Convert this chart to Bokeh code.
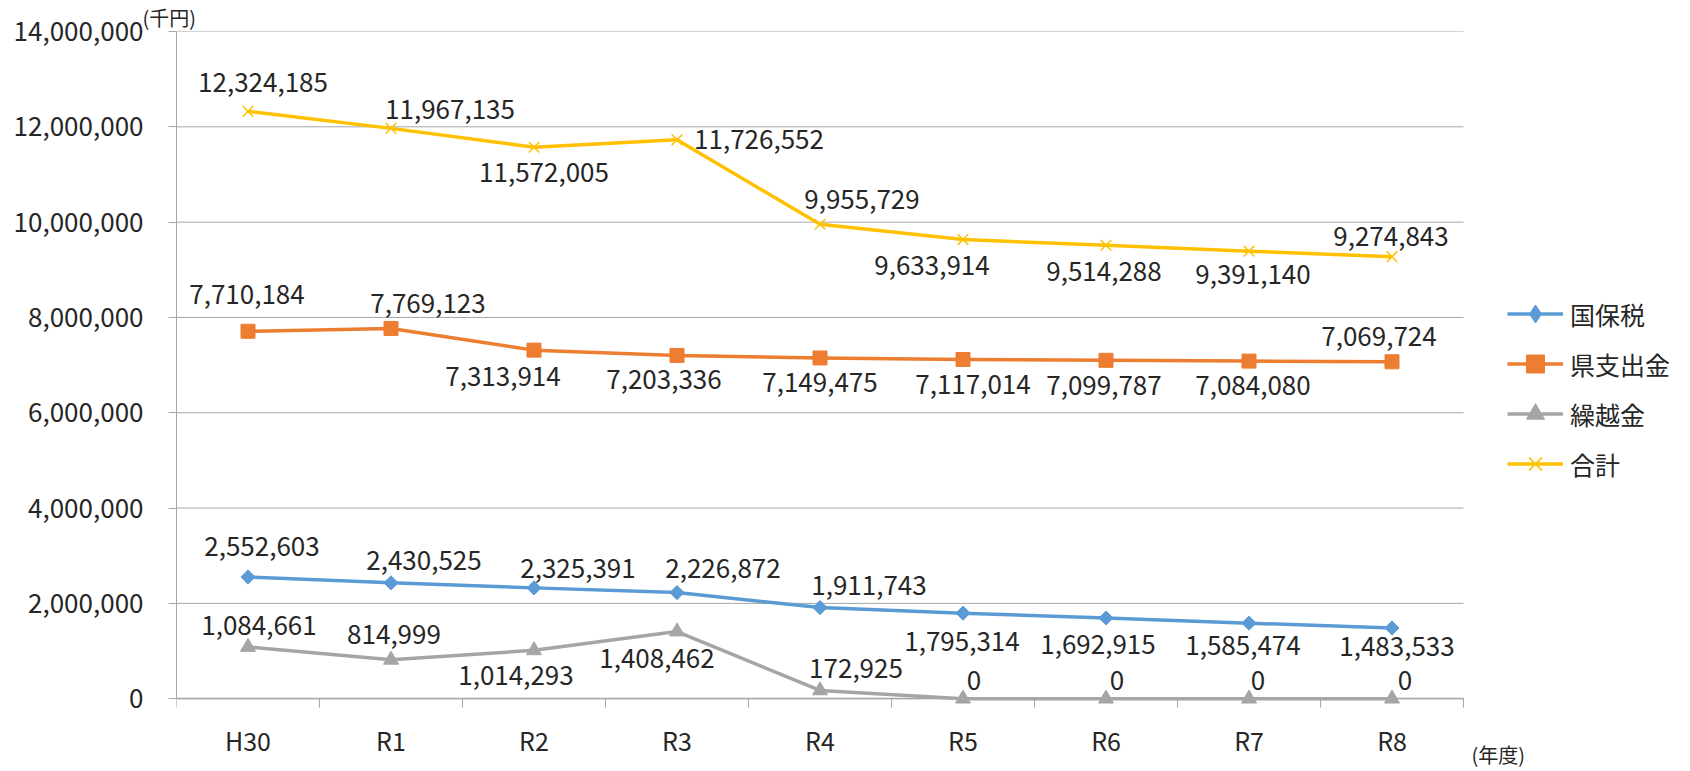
from bokeh.plotting import figure
from bokeh.models import (Range1d, FixedTicker, NumeralTickFormatter, Legend, LegendItem,
                          ColumnDataSource, Title, Label)
from bokeh.core.properties import value
from bokeh.embed import file_html
from bokeh.resources import INLINE
import math

# 年度
years = ["H30", "R1", "R2", "R3", "R4", "R5", "R6", "R7", "R8"]

# 財源の内訳（千円）
kokuhozei = [2552603, 2430525, 2325391, 2226872, 1911743, 1795314, 1692915, 1585474, 1483533]
ken_shishutsukin = [7710184, 7769123, 7313914, 7203336, 7149475, 7117014, 7099787, 7084080, 7069724]
kurikoshikin = [1084661, 814999, 1014293, 1408462, 172925, 0, 0, 0, 0]
goukei = [12324185, 11967135, 11572005, 11726552, 9955729, 9633914, 9514288, 9391140, 9274843]

y_ticks = [0, 2000000, 4000000, 6000000, 8000000, 10000000, 12000000, 14000000]

# データラベルの配置（画面上のずれ、px）
kokuhozei_dx = [14, 33, 44, 46, 49, -1, -8, -6, 5]
kokuhozei_dy = [-31, -22, -19, -24, -22, 28, 26, 22, 19]
ken_dx = [-1, 37, -31, -13, 0, 10, -2, 4, -13]
ken_dy = [-37, -25, 26, 24, 25, 25, 25, 24, -25]
kuri_dx = [11, 3, -18, -20, 36, 11, 11, 9, 13]
kuri_dy = [-22, -25, 25, 27, -22, -18, -18, -18, -18]
goukei_dx = [15, 59, 10, 82, 42, -31, -2, 4, -1]
goukei_dy = [-29, -19, 25, 0, -25, 26, 26, 23, -20]

FONT = "Noto Sans CJK JP"
TEXT = "#262626"
GRID = "#a6a6a6"
NUM_SIZE = "26px"

# 描画領域の寸法（px）：グラフ部分の外側に凡例と軸ラベルを置く余白を取る
W, H = 1690, 771
LEFT, TOP = 176, 29
PLOT_W, PLOT_H = 1287, 669
n = len(years)
x_end = n * (W - LEFT) / PLOT_W
y_start = -y_ticks[-1] * (H - TOP - PLOT_H) / PLOT_H

xs = [i + 0.5 for i in range(n)]

p = figure(width=W, height=H,
           x_range=Range1d(0, x_end), y_range=Range1d(y_start, y_ticks[-1]),
           output_backend="svg", toolbar_location=None,
           min_border_left=LEFT, min_border_right=0,
           min_border_top=TOP, min_border_bottom=0)
p.outline_line_color = None
p.background_fill_color = "white"
p.border_fill_color = "white"
p.xgrid.visible = False
p.ygrid.visible = False

# 目盛り線（横方向はグラフ部分の幅だけ）
p.segment(x0=0, x1=n, y0=y_ticks, y1=y_ticks, line_color=GRID, line_width=1,
          level="underlay")

# 縦軸
p.yaxis.bounds = (0, y_ticks[-1])
p.yaxis.ticker = FixedTicker(ticks=y_ticks)
p.yaxis.formatter = NumeralTickFormatter(format="0,0")
p.yaxis.axis_line_color = GRID
p.yaxis.major_tick_line_color = GRID
p.yaxis.major_tick_out = 8
p.yaxis.major_tick_in = 0
p.yaxis.minor_tick_line_color = None
p.yaxis.major_label_standoff = 25
p.yaxis.major_label_text_font = FONT
p.yaxis.major_label_text_font_size = NUM_SIZE
p.yaxis.major_label_text_color = TEXT

# 横軸：0 の位置に固定。目盛り線は区間の境目、ラベルは区間の中央
p.xaxis.fixed_location = 0
p.xaxis.bounds = (0, n)
p.xaxis.ticker = FixedTicker(ticks=xs, minor_ticks=list(range(n + 1)))
p.xaxis.major_label_overrides = {x: y for x, y in zip(xs, years)}
p.xaxis.major_tick_line_color = None
p.xaxis.major_tick_out = 0
p.xaxis.major_tick_in = 0
p.xaxis.minor_tick_line_color = GRID
p.xaxis.minor_tick_out = 9
p.xaxis.minor_tick_in = 0
p.xaxis.axis_line_color = GRID
p.xaxis.axis_line_width = 1.5
p.xaxis.major_label_standoff = 14
p.xaxis.major_label_text_font = FONT
p.xaxis.major_label_text_font_size = "25px"
p.xaxis.major_label_text_color = TEXT

# (名前, 値, 色, 折れ線上のマーカー, 凡例のマーカー, ラベルのずれ)
series = [
    ("国保税", kokuhozei, "#5B9BD5",
     dict(marker="square", size=10, angle=math.pi / 4), "diamond",
     kokuhozei_dx, kokuhozei_dy),
    ("県支出金", ken_shishutsukin, "#ED7D31",
     dict(marker="square", size=14), None,
     ken_dx, ken_dy),
    ("繰越金", kurikoshikin, "#A5A5A5",
     dict(marker="triangle", size=15), None,
     kuri_dx, kuri_dy),
    ("合計", goukei, "#FFC000",
     dict(marker="x", size=15, line_width=1.5), None,
     goukei_dx, goukei_dy),
]

items = []
lab_x, lab_y, lab_t, lab_dx, lab_dy = [], [], [], [], []
for name, vals, color, mk, legend_mk, dx, dy in series:
    ln = p.line(xs, vals, line_color=color, line_width=3.5, line_join="round")
    sc = p.scatter(xs, vals, fill_color=color, line_color=color, **mk)
    if legend_mk is not None:
        # 凡例のマーカーは回転しないので、凡例用のひし形を大きさ 0 で重ねておく
        key = p.scatter(xs, vals, marker=legend_mk, size=0,
                        fill_color=color, line_color=color)
        items.append(LegendItem(label=name, renderers=[ln, key]))
    else:
        items.append(LegendItem(label=name, renderers=[ln, sc]))
    lab_x += xs
    lab_y += vals
    lab_t += [f"{v:,}" for v in vals]
    lab_dx += dx
    lab_dy += dy

labels = ColumnDataSource(dict(x=lab_x, y=lab_y, text=lab_t, dx=lab_dx, dy=lab_dy))
p.text(x="x", y="y", text="text", x_offset="dx", y_offset="dy", source=labels,
       text_align="center", text_baseline="middle",
       text_font=value(FONT), text_font_size=NUM_SIZE, text_color=TEXT)

# 凡例
legend = Legend(items=items, location=(1507 - LEFT, 285))
legend.glyph_width = 56
legend.glyph_height = 45
legend.label_height = 45
legend.spacing = 5
legend.padding = 0
legend.margin = 0
legend.label_standoff = 7
legend.border_line_color = None
legend.background_fill_alpha = 0
legend.label_text_font = FONT
legend.label_text_font_size = "25px"
legend.label_text_color = TEXT
legend.label_text_baseline = "middle"
p.add_layout(legend)

# 横軸の単位
p.add_layout(Label(x=n, y=0, text="(年度)", x_offset=8, y_offset=-56,
                   text_align="left", text_baseline="middle",
                   text_font=FONT, text_font_size="20px", text_color=TEXT))

# 縦軸の単位
p.add_layout(Title(text="(千円)", align="left", offset=-34, standoff=0,
                   text_font=FONT, text_font_size="20px", text_font_style="normal",
                   text_color=TEXT), "above")

open("out.html", "w").write(file_html(p, INLINE))
